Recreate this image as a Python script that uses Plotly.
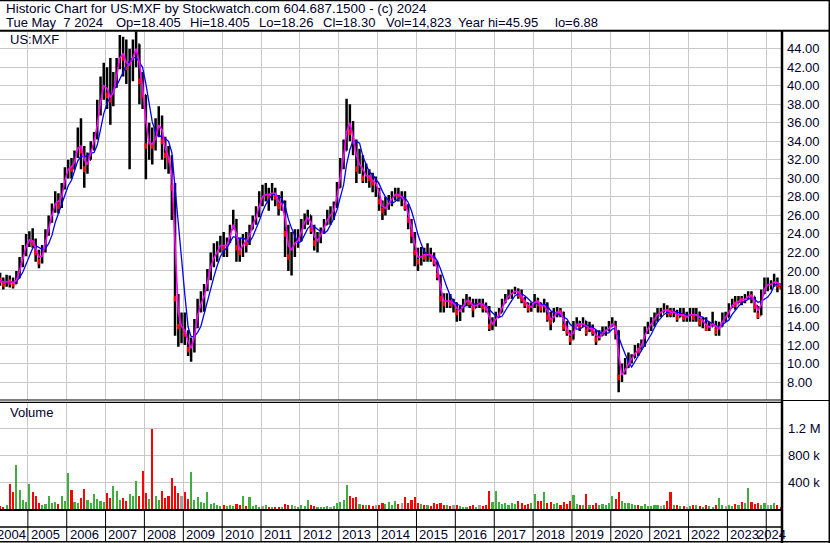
import plotly.graph_objects as go
import pandas as pd

# ---------------- DATA (monthly, Apr 2004 - May 2024) ----------------
close = [
    19.0, 18.6, 19.0, 18.8, 18.6, 19.4, 20.6, 22.0, 23.2,                      # 2004 Apr-Dec
    23.5, 23.0, 22.0, 21.0, 22.2, 24.0, 25.5, 26.5, 28.0, 27.0, 29.0, 30.5,    # 2005
    31.5, 31.0, 32.5, 34.0, 33.0, 31.0, 32.0, 33.5, 34.5, 37.0, 39.5, 40.5,    # 2006
    39.0, 38.5, 40.0, 42.0, 44.0, 43.0, 42.0, 42.5, 43.5, 44.5, 40.5, 39.0,    # 2007
    33.5, 34.0, 33.5, 35.0, 36.5, 34.0, 32.5, 32.0, 29.0, 17.0, 14.0, 14.0,    # 2008
    13.2, 11.5, 11.8, 14.0, 16.3, 16.5, 18.0, 19.5, 21.3, 21.5, 22.5, 23.0,    # 2009
    22.5, 23.0, 24.5, 25.5, 22.5, 22.0, 23.5, 23.0, 24.5, 25.5, 26.0, 28.0,    # 2010
    28.0, 28.5, 28.0, 28.8, 28.0, 27.0, 27.5, 24.0, 21.5, 23.0, 23.0, 23.5,    # 2011
    25.0, 25.5, 26.0, 24.5, 23.0, 23.5, 24.2, 25.0, 26.0, 26.0, 27.0, 29.0,    # 2012
    31.5, 33.0, 37.0, 35.0, 34.0, 31.0, 32.0, 30.0, 30.5, 30.0, 29.5, 29.5,    # 2013
    27.5, 26.5, 27.0, 27.5, 28.0, 28.5, 28.0, 28.0, 27.0, 25.5, 24.0, 22.0,    # 2014
    21.0, 22.0, 21.5, 22.0, 21.5, 21.0, 19.5, 17.0, 16.5, 17.0, 16.5, 16.5,    # 2015
    15.5, 15.8, 16.5, 17.0, 16.5, 16.0, 16.5, 16.5, 16.2, 16.0, 14.0, 14.5,    # 2016
    15.0, 15.5, 16.5, 17.0, 17.5, 17.6, 18.0, 17.5, 17.0, 16.5, 16.0, 16.2,    # 2017
    17.0, 16.5, 16.0, 16.5, 15.0, 14.5, 15.5, 15.6, 15.5, 14.0, 13.5, 12.6,    # 2018
    14.0, 14.5, 14.0, 14.6, 13.5, 14.0, 13.5, 12.6, 13.0, 13.5, 13.6, 14.0,    # 2019
    14.5, 13.5, 8.5, 9.0, 9.6, 10.4, 10.6, 11.5, 11.4, 12.4, 13.5, 14.0,       # 2020
    14.5, 15.0, 15.5, 15.5, 16.0, 15.6, 15.5, 15.6, 15.0, 15.5, 15.0, 15.0,    # 2021
    15.5, 15.0, 15.5, 14.5, 14.6, 13.8, 14.0, 14.5, 13.5, 14.0, 15.0, 15.0,    # 2022
    16.0, 16.5, 16.4, 17.0, 16.8, 17.0, 17.5, 17.2, 16.2, 15.2, 17.5, 18.5,    # 2023
    18.5, 18.6, 19.0, 18.5, 18.3,                                              # 2024 Jan-May
]
high = [
    19.8, 19.3, 19.6, 19.5, 19.3, 20.0, 21.5, 22.8, 24.0,
    24.3, 24.6, 23.5, 22.3, 22.8, 24.5, 26.0, 27.3, 28.6, 28.4, 29.5, 31.2,
    32.0, 32.2, 33.0, 35.5, 36.5, 33.5, 32.8, 34.0, 35.0, 38.5, 41.0, 42.5,
    42.0, 43.0, 41.5, 43.0, 45.5, 45.3, 45.0, 44.0, 45.0, 45.95, 44.5, 41.5,
    39.0, 36.0, 35.5, 36.5, 37.8, 36.8, 34.5, 33.5, 32.5, 29.5, 17.5, 15.5,
    15.5, 13.6, 12.8, 14.8, 17.0, 17.8, 18.6, 20.2, 22.0, 23.0, 23.2, 23.8,
    24.2, 23.6, 25.0, 26.6, 25.6, 23.6, 24.0, 24.2, 25.0, 26.0, 27.0, 28.6,
    29.3, 29.5, 29.0, 29.5, 29.0, 28.2, 28.6, 27.6, 25.0, 24.2, 24.5, 24.5,
    25.6, 26.2, 26.6, 26.0, 25.0, 24.2, 24.7, 25.6, 26.6, 27.0, 27.5, 29.6,
    32.2, 34.2, 38.6, 38.0, 36.2, 34.2, 33.2, 32.5, 31.6, 31.0, 30.6, 30.2,
    29.0, 27.6, 28.0, 28.2, 28.6, 29.0, 29.0, 28.6, 28.6, 27.2, 25.6, 24.2,
    22.5, 22.6, 22.5, 23.0, 22.5, 22.0, 21.0, 19.6, 17.6, 17.6, 17.5, 17.0,
    16.6, 16.2, 17.0, 17.5, 17.2, 17.0, 17.0, 17.0, 17.0, 16.6, 16.2, 15.0,
    15.6, 16.0, 17.0, 17.5, 18.0, 18.0, 18.3, 18.1, 18.0, 17.2, 16.6, 16.6,
    17.5, 17.1, 16.6, 17.0, 16.6, 15.6, 16.0, 16.1, 16.0, 15.6, 14.6, 13.6,
    14.6, 15.0, 14.6, 15.0, 14.6, 14.5, 14.2, 13.6, 13.6, 14.0, 14.0, 14.6,
    15.0, 14.6, 13.6, 10.0, 10.6, 11.2, 11.0, 12.0, 12.2, 12.6, 14.0, 14.5,
    15.0, 15.5, 16.0, 16.0, 16.5, 16.3, 16.0, 16.0, 15.8, 16.0, 16.0, 15.6,
    16.0, 16.0, 16.0, 15.6, 15.0, 15.0, 14.5, 15.6, 14.6, 14.5, 15.5, 15.6,
    16.5, 17.0, 17.3, 17.3, 17.3, 17.5, 17.8, 17.8, 17.2, 16.2, 18.0, 19.3,
    19.3, 19.0, 19.7, 19.3, 18.5,
]
low = [
    18.4, 18.0, 18.3, 18.2, 18.1, 18.6, 19.2, 20.4, 21.6,
    22.6, 22.5, 21.0, 20.3, 20.8, 22.0, 23.8, 25.2, 26.3, 26.2, 26.8, 28.8,
    30.0, 30.0, 31.0, 32.2, 31.0, 29.0, 30.5, 32.0, 33.0, 34.2, 36.8, 38.5,
    37.5, 35.8, 37.8, 39.8, 41.8, 41.0, 40.2, 31.0, 40.5, 42.0, 38.0, 37.5,
    29.9, 32.0, 31.5, 33.0, 34.5, 32.0, 31.0, 30.5, 25.5, 13.0, 11.8, 12.2,
    12.0, 10.8, 10.2, 11.2, 13.8, 15.5, 15.6, 17.8, 19.0, 20.4, 21.0, 22.0,
    21.5, 21.5, 23.0, 24.5, 21.0, 21.0, 21.5, 22.0, 22.8, 24.5, 25.0, 25.8,
    27.0, 27.5, 26.5, 27.6, 27.0, 26.0, 26.5, 21.5, 20.0, 19.5, 21.5, 22.5,
    23.2, 24.5, 25.0, 24.0, 22.2, 22.0, 23.0, 24.0, 25.0, 25.0, 25.5, 26.8,
    29.0, 31.0, 33.0, 34.0, 32.5, 29.5, 30.5, 29.5, 29.5, 29.0, 28.5, 28.0,
    26.5, 25.5, 26.0, 26.6, 27.0, 27.6, 27.5, 27.0, 26.5, 24.5, 23.0, 20.5,
    20.0, 20.6, 21.0, 21.0, 21.0, 20.5, 19.0, 15.5, 15.5, 16.0, 16.0, 15.5,
    14.5, 14.6, 15.5, 16.2, 16.0, 15.0, 16.0, 16.0, 15.5, 15.5, 13.5, 13.6,
    14.0, 15.0, 15.5, 16.5, 17.0, 17.0, 17.5, 17.0, 16.5, 16.0, 15.5, 15.6,
    16.0, 15.5, 15.5, 15.5, 14.5, 13.6, 14.5, 15.0, 15.0, 13.5, 13.0, 12.0,
    12.6, 14.0, 13.5, 14.0, 13.0, 13.4, 13.0, 12.0, 12.5, 13.0, 13.0, 13.5,
    14.0, 12.6, 6.88, 8.0, 8.8, 9.5, 10.0, 10.6, 10.8, 11.5, 11.8, 13.2,
    13.5, 14.0, 14.5, 15.0, 15.5, 15.0, 15.0, 15.0, 14.5, 15.0, 14.5, 14.5,
    14.5, 14.5, 14.5, 14.0, 13.8, 13.5, 13.5, 14.0, 13.0, 13.0, 14.0, 14.5,
    15.0, 16.0, 15.8, 16.5, 16.3, 16.5, 17.0, 16.5, 15.5, 14.8, 15.2, 17.5,
    17.8, 18.0, 18.3, 17.7, 18.2,
]
volume_k = [
    60, 40, 80, 380, 260, 670, 290, 150, 120,
    390, 270, 210, 100, 80, 90, 210, 100, 120, 90, 200, 130,
    550, 300, 120, 100, 180, 310, 150, 110, 240, 160, 130, 120,
    250, 180, 360, 280, 150, 180, 140, 230, 200, 430, 200, 580,
    250, 160, 1200, 200, 150, 285, 180, 200, 480, 360, 250, 200,
    260, 160, 565, 150, 185, 120, 100, 260, 90, 110, 70, 60,
    80, 60, 70, 60, 90, 70, 210, 60, 185, 60, 70, 50,
    60, 70, 50, 40, 50, 45, 50, 90, 80, 70, 60, 50,
    70, 60, 150, 80, 60, 50, 40, 50, 60, 50, 60, 100,
    120, 150, 370, 200, 180, 190, 90, 80, 70, 80, 60, 80,
    80, 110, 90, 120, 80, 130, 90, 100, 195, 100, 150, 195,
    110, 90, 80, 70, 60, 100, 90, 110, 80, 70, 60, 70,
    70, 60, 50, 50, 60, 80, 50, 70, 60, 80, 280, 120,
    280, 120, 90, 100, 80, 110, 90, 130, 100, 80, 90, 100,
    240, 140, 130, 270, 110, 120, 90, 100, 80, 120, 90, 130,
    225, 90, 80, 70, 230, 80, 70, 110, 70, 90, 70, 110,
    210, 160, 265, 140, 110, 100, 90, 70, 80, 60, 90, 60,
    60, 80, 70, 60, 80, 130, 270, 80, 70, 60, 60, 50,
    60, 70, 80, 60, 50, 70, 60, 50, 80, 180, 80, 60,
    70, 60, 90, 70, 120, 100, 330, 120, 90, 110, 80, 100,
    80, 70, 110, 80, 40,
]
first_open = 19.2
price_ticks = list(range(8, 45, 2))
volume_ticks = [400000, 800000, 1200000]
volume_ticktext = ["400 k", "800 k", "1.2 M"]
year_labels = [str(y) for y in range(2004, 2025)]
title_line1 = "Historic Chart for US:MXF by Stockwatch.com 604.687.1500 - (c) 2024"
title_line2_parts = ["Tue May\u00a0\u00a07 2024", "Op=18.405", "Hi=18.405", "Lo=18.26",
                     "Cl=18.30", "Vol=14,823", "Year hi=45.95", "lo=6.88"]

n = len(close)
assert len(high) == n and len(low) == n and len(volume_k) == n

# ---------------- derived ----------------
W, H = 830, 543
def py(y):  # pixel y -> paper
    return 1 - y / H
def px(x):
    return x / W

dates = pd.date_range("2004-04-01", periods=n, freq="MS") + pd.Timedelta(days=14)
open_ = [first_open] + close[:-1]
s_close = pd.Series(close)
ma_fast = s_close.rolling(2, min_periods=1).mean()
ma_slow = s_close.rolling(5, min_periods=1).mean()
volume = [v * 1000 for v in volume_k]
vcolors = []
down_x, down_y = [], []
for d, o, c in zip(dates, open_, close):
    if c > o:
        vcolors.append("#3fae3f")
    elif c < o:
        vcolors.append("#ff0000")
        down_x.append(d)
        down_y.append(c)
    else:
        vcolors.append("#a0a0a0")

x_start = pd.Timestamp("2004-04-14")
x_end = pd.Timestamp("2024-05-28")
year_bounds = [pd.Timestamp(f"{y}-01-01") for y in range(2005, 2025)]

FONT = "Liberation Sans, Arial, sans-serif"
TXT = "#00002a"
GRID = "#c8c8c8"

fig = go.Figure()

fig.add_trace(go.Ohlc(
    x=dates, open=open_, high=high, low=low, close=close,
    increasing=dict(line=dict(color="black", width=2.5)),
    decreasing=dict(line=dict(color="black", width=2.5)),
    tickwidth=0.3, xaxis="x", yaxis="y", showlegend=False, hoverinfo="skip",
))
fig.add_trace(go.Scatter(x=down_x, y=down_y, mode="markers",
                         marker=dict(symbol="line-ns", size=4,
                                     line=dict(color="#ff0000", width=2.5)),
                         xaxis="x", yaxis="y", showlegend=False, hoverinfo="skip"))
fig.add_trace(go.Scatter(x=dates, y=ma_slow, mode="lines",
                         line=dict(color="#0000ff", width=1.3),
                         xaxis="x", yaxis="y", showlegend=False, hoverinfo="skip"))
fig.add_trace(go.Scatter(x=dates, y=ma_fast, mode="lines",
                         line=dict(color="#ff00ff", width=1.6),
                         xaxis="x", yaxis="y", showlegend=False, hoverinfo="skip"))
fig.add_trace(go.Bar(x=dates, y=volume, marker=dict(color=vcolors, line=dict(width=0)),
                     width=20 * 24 * 3600 * 1000, xaxis="x2", yaxis="y2",
                     showlegend=False, hoverinfo="skip"))

xcommon = dict(type="date", range=[x_start, x_end], domain=[0, px(782)],
               tickmode="array", tickvals=year_bounds, showticklabels=False,
               ticks="", showgrid=True, gridcolor=GRID, gridwidth=1,
               showline=False, zeroline=False, fixedrange=True)

fig.update_layout(
    width=W, height=H,
    margin=dict(l=0, r=0, t=0, b=0),
    paper_bgcolor="white", plot_bgcolor="white",
    showlegend=False,
    xaxis=dict(**xcommon, anchor="y", rangeslider=dict(visible=False)),
    xaxis2=dict(**xcommon, anchor="y2", matches="x"),
    yaxis=dict(domain=[py(399.5), py(31.5)], range=[6.11, 45.87], side="right",
               anchor="x", tickmode="array", tickvals=price_ticks,
               tickformat=".2f", ticks="", ticklabelstandoff=4,
               showgrid=True, gridcolor=GRID, gridwidth=1, zeroline=False,
               showline=False, tickfont=dict(family=FONT, size=13, color=TXT)),
    yaxis2=dict(domain=[py(509.5), py(402.5)], range=[0, 1581000], side="right",
                anchor="x2", tickmode="array", tickvals=volume_ticks,
                ticktext=volume_ticktext, ticks="", ticklabelstandoff=5,
                showgrid=True, gridcolor=GRID, gridwidth=1, zeroline=False,
                showline=False, tickfont=dict(family=FONT, size=13, color=TXT)),
    bargap=0,
)

shapes = []
def hline(y, x0=0, x1=W, w=1.0):
    shapes.append(dict(type="line", xref="paper", yref="paper", x0=px(x0), x1=px(x1),
                       y0=py(y), y1=py(y), line=dict(color="black", width=w)))
def vline_px(x, y0, y1, w=1.0):
    shapes.append(dict(type="line", xref="paper", yref="paper", x0=px(x), x1=px(x),
                       y0=py(y0), y1=py(y1), line=dict(color="black", width=w)))

hline(0.5, w=1.5)
hline(30.8, w=2)
hline(400, 0, 782, 1.2)
hline(402.4, 0, 782, 1.2)
hline(400.5, 782, W, 1.2)
hline(510, 0, 782, 2)
hline(527, 0, 782, 1.3)
hline(541.8, 0, W, 1.5)
vline_px(829.3, 0, 543, 1.5)
vline_px(782, 30.8, 543, 2.5)
for b in year_bounds:
    shapes.append(dict(type="line", xref="x2", yref="paper", x0=b, x1=b,
                       y0=py(541.8), y1=py(510), line=dict(color="black", width=1)))
fig.update_layout(shapes=shapes)

ann = []
def text(x, y, s, size=13):
    ann.append(dict(xref="paper", yref="paper", x=px(x), y=py(y), text=s,
                    showarrow=False, xanchor="left", yanchor="middle",
                    font=dict(family=FONT, size=size, color=TXT)))

text(4, 9, title_line1, 13.4)
part_x = [4, 114, 188, 257, 321, 384, 456, 553]
for xx, s in zip(part_x, title_line2_parts):
    text(xx, 22.5, s, 13)
text(8, 39.5, "US:MXF")
text(8, 413, "Volume")

# year labels centred on visible part of each year
for lab in year_labels:
    y = int(lab)
    a = max(pd.Timestamp(f"{y}-01-01"), x_start)
    b = min(pd.Timestamp(f"{y + 1}-01-01"), pd.Timestamp("2024-05-08"))
    mid = a + (b - a) / 2
    ann.append(dict(xref="x2", yref="paper", x=mid, y=py(534.5), text=lab,
                    showarrow=False, xanchor="center", yanchor="middle", xshift=-2,
                    font=dict(family=FONT, size=13, color=TXT)))
fig.update_layout(annotations=ann)

fig.write_html("out.html", config={"displayModeBar": False},
               post_script="document.body.style.margin='0';document.body.style.padding='0';")
